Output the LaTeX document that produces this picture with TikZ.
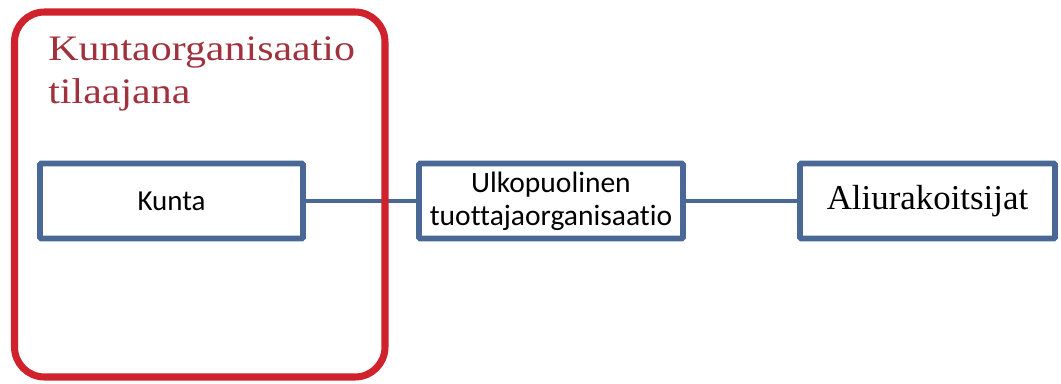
\documentclass[tikz,border=0pt]{standalone}
\usepackage{fontspec}
\setmainfont{Liberation Serif}
\newfontfamily\boxfont[Ligatures=NoCommon]{Carlito}
\newfontfamily\titlefont[FakeStretch=1.17]{Liberation Serif}
\usetikzlibrary{calc,positioning,shadows}
\definecolor{boxblue}{RGB}{74,104,150}
\definecolor{frame red}{RGB}{208,34,44}
\definecolor{title red}{RGB}{160,50,62}

\tikzset{
    unitbox/.style={draw=boxblue, line width=4.2pt, fill=white, rounded corners=1pt,
        inner sep=0pt, align=center, minimum height=1.875cm,
        drop shadow={opacity=0.2, shadow xshift=0.8pt, shadow yshift=-1.2pt}},
    link/.style={draw=boxblue, line width=3.2pt}
}

\begin{document}
\begin{tikzpicture}[x=0.025cm, y=-0.025cm]
        \useasboundingbox (0,0) rectangle (1061,383);
        % Draw boxes
        \node[unitbox, minimum width=6.575cm, font=\boxfont\fontsize{20.6}{22}\selectfont] (kunta) at (171.5,201) {Kunta};
        \node[unitbox, minimum width=6.6cm, font=\boxfont\fontsize{21}{23.5}\selectfont] (tuottaja) at (551,201) {Ulkopuolinen\\tuottajaorganisaatio};
        \node[unitbox, minimum width=6.375cm, font=\fontsize{24.8}{28}\selectfont] (aliurak) at (927.5,201) {Aliurakoitsijat};
        % Draw links
        \draw[link] (kunta.east) -- (tuottaja.west);
        \draw[link] (tuottaja.east) -- (aliurak.west);
        % Draw red frame of the ordering organisation
        \draw[draw=frame red, line width=5pt, rounded corners=0.75cm] (14.5,12) rectangle (385,377);
        \node[anchor=base west, inner sep=0pt, align=left, text=title red,
            font=\titlefont\fontsize{25.5}{30.5}\selectfont] (tilaaja) at (48,103) {Kuntaorganisaatio\\tilaajana};
        \end{tikzpicture}
\end{document}
